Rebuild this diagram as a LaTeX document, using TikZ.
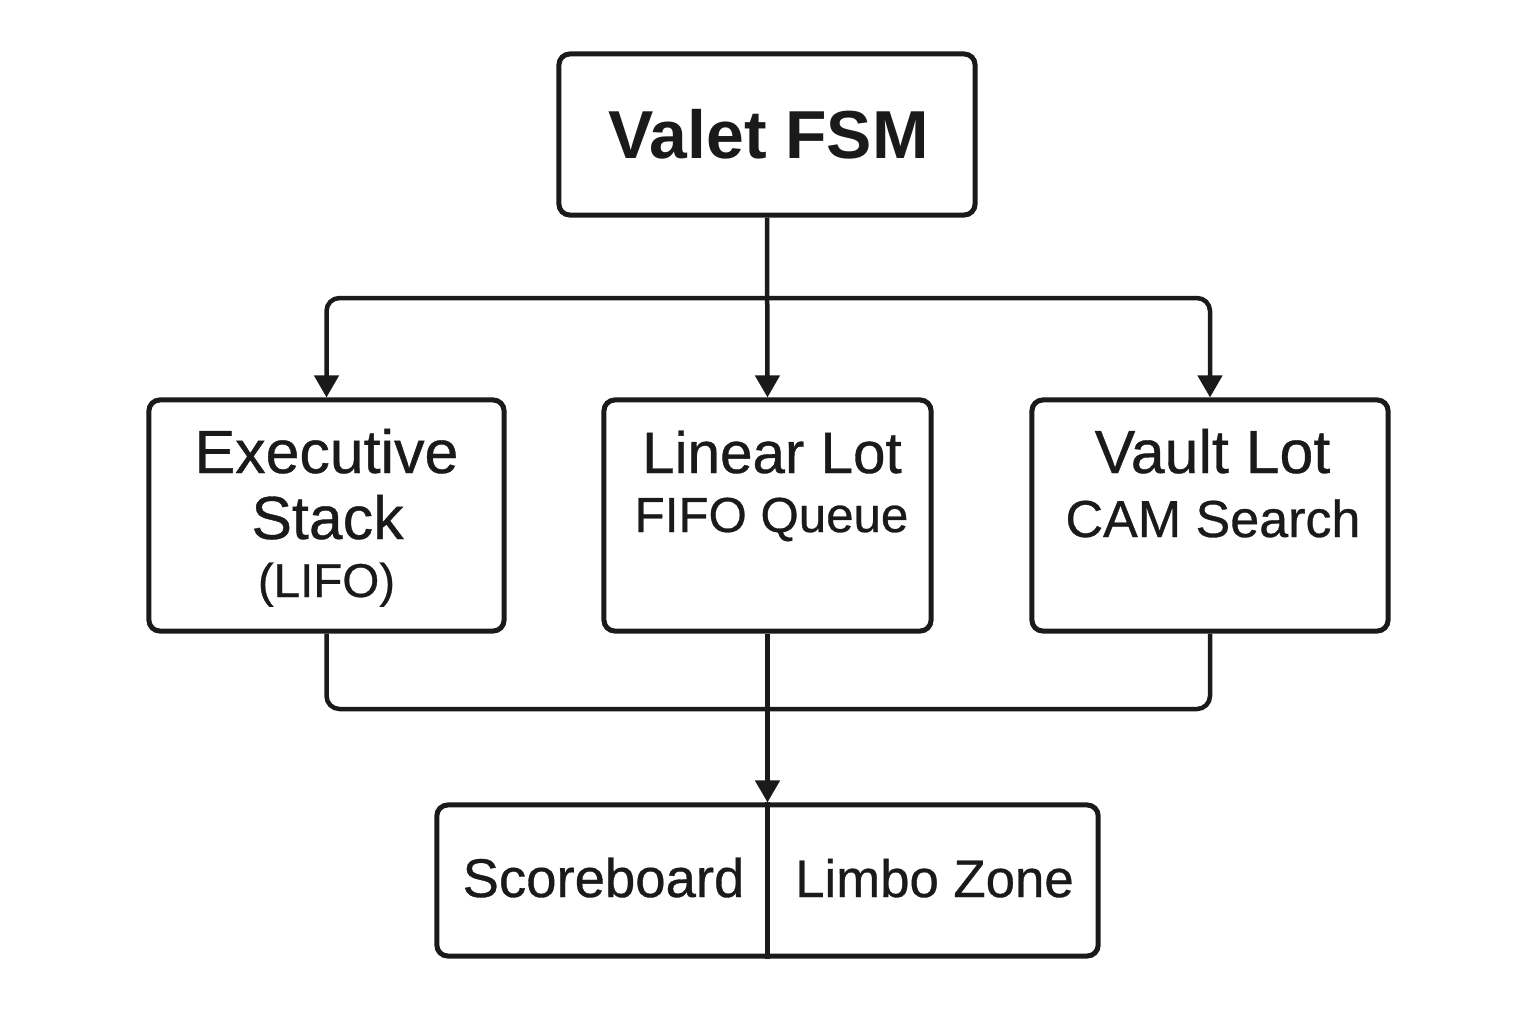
\documentclass[tikz,border=0pt]{standalone}
\usepackage{fontspec}
\setmainfont{Liberation Sans}[FakeBold=0.6]
\newfontfamily\titlefont{Liberation Sans Bold}
\usetikzlibrary{arrows.meta}
\definecolor{ink}{HTML}{1A1A1A}
\tikzset{
  box/.style={draw=ink, line width=0.05cm, rounded corners=0.11cm, fill=white, inner sep=0pt},
  lbl/.style={text=ink, inner sep=0pt, anchor=base},
  conn/.style={draw=ink, line width=0.045cm, rounded corners=0.13cm},
  arr/.style={conn, -{Triangle[length=0.22cm,width=0.24cm]}}
}
\newcommand{\fsz}[1]{\fontsize{#1}{#1}\selectfont}
\begin{document}
\begin{tikzpicture}[x=0.01cm,y=-0.01cm]
\useasboundingbox (0,0) rectangle (1536,1024);
% boxes
\node[box, minimum width=4.16cm, minimum height=1.61cm] (top) at (767,134.5) {};
\node[box, minimum width=3.55cm, minimum height=2.31cm] (left) at (326.5,515.5) {};
\node[box, minimum width=3.27cm, minimum height=2.31cm] (mid) at (767.5,515.5) {};
\node[box, minimum width=3.56cm, minimum height=2.31cm] (right) at (1210,515.5) {};
\node[box, minimum width=6.61cm, minimum height=1.51cm] (bottom) at (767.5,880.5) {};
% labels
\node[lbl, font=\titlefont\fsz{19.3}] (ttitle) at (768.5,158) {Valet FSM};
\node[lbl, font=\fsz{17.3}] (l1) at (326.5,473) {Executive};
\node[lbl, font=\fsz{17.3}] (l2) at (327.5,539) {Stack};
\node[lbl, font=\fsz{13.5}] (l3) at (326.5,597) {(LIFO)};
\node[lbl, font=\fsz{16.6}] (m1) at (772,473) {Linear Lot};
\node[lbl, font=\fsz{14}] (m2) at (771.5,532) {FIFO Queue};
\node[lbl, font=\fsz{17.3}] (r1) at (1212.5,473) {Vault Lot};
\node[lbl, font=\fsz{14.8}] (r2) at (1213,537) {CAM Search};
\node[lbl, font=\fsz{15.5}] (b1) at (603.5,897) {Scoreboard};
\node[lbl, font=\fsz{15}] (b2) at (934.5,897) {Limbo Zone};
% divider
\draw[draw=ink, line width=0.045cm] (bottom.north) -- (bottom.south);
% connectors
\coordinate (split) at (768,298);
\coordinate (merge) at (768,709);
\draw[arr] (top.south) -- (mid.north);
\draw[arr] (split) -| (left.north);
\draw[arr] (split) -| (right.north);
\draw[conn] (left.south) |- (merge) -| (right.south);
\draw[arr] (mid.south) -- (bottom.north);
\end{tikzpicture}
\end{document}
